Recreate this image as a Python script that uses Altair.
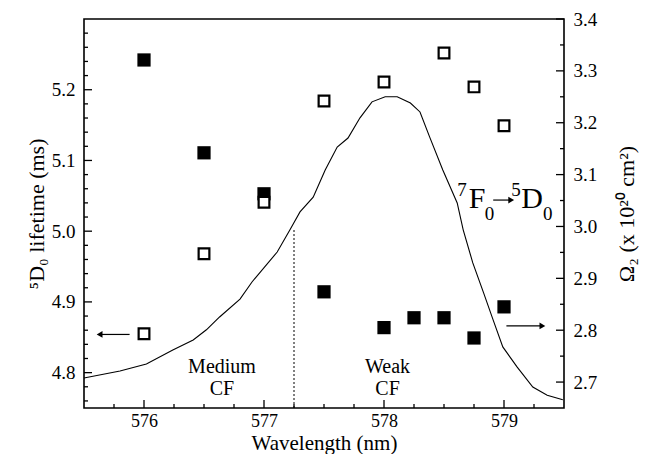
import altair as alt
import pandas as pd

# ---------------- data ----------------
wl_open = [576.0, 576.5, 577.0, 577.5, 578.0, 578.5, 578.75, 579.0]
lifetime = [4.855, 4.968, 5.041, 5.184, 5.211, 5.252, 5.204, 5.149]

wl_fill = [576.0, 576.5, 577.0, 577.5, 578.0, 578.25, 578.5, 578.75, 579.0]
omega2 = [3.321, 3.142, 3.063, 2.874, 2.805, 2.824, 2.824, 2.785, 2.845]

spec_wl = [575.5, 575.8, 576.02, 576.24, 576.41, 576.52, 576.63, 576.8, 576.9,
           577.11, 577.22, 577.3, 577.41, 577.51, 577.61, 577.7, 577.8, 577.9,
           578.01, 578.11, 578.22, 578.3, 578.38, 578.49, 578.61, 578.66, 578.74,
           578.83, 578.91, 578.99, 579.11, 579.24, 579.36, 579.49]
spec_int = [0.077, 0.095, 0.113, 0.149, 0.175, 0.201, 0.234, 0.280, 0.324,
            0.401, 0.460, 0.504, 0.542, 0.612, 0.671, 0.694, 0.746, 0.787,
            0.800, 0.800, 0.784, 0.761, 0.697, 0.612, 0.527, 0.458, 0.373,
            0.296, 0.226, 0.157, 0.105, 0.054, 0.033, 0.021]

x_major = [576, 577, 578, 579]
x_minor = [575.75, 576.25, 576.5, 576.75, 577.25, 577.5, 577.75, 578.25, 578.5,
           578.75, 579.25]
l_major = [4.8, 4.9, 5.0, 5.1, 5.2]
l_minor = [4.76, 4.78, 4.82, 4.84, 4.86, 4.88, 4.92, 4.94, 4.96, 4.98, 5.02, 5.04,
           5.06, 5.08, 5.12, 5.14, 5.16, 5.18, 5.22, 5.24, 5.26, 5.28]
r_major = [2.7, 2.8, 2.9, 3.0, 3.1, 3.2, 3.3, 3.4]
r_minor = [2.75, 2.85, 2.95, 3.05, 3.15, 3.25, 3.35]

divider_wl = [577.25]
divider_lo = [0.0]
divider_hi = [0.46]

region_text = ["Medium", "CF", "Weak", "CF"]
region_x = [576.65, 576.65, 578.03, 578.03]
region_y = [4.808, 4.777, 4.808, 4.777]

arrow_x0 = [575.88, 579.02, 578.91]
arrow_x1 = [575.63, 579.32, 579.06]
arrow_y = [4.854, 4.866, 5.044]
head_shape = ["triangle-left", "triangle-right", "triangle-right"]

big_text = ["F", "D"]
big_x = [578.775, 579.235]
big_y = [5.033, 5.033]
sup_text = ["7", "5"]
sup_x = [578.65, 579.1]
sup_y = [5.05, 5.05]
sub_text = ["0", "0"]
sub_x = [578.88, 579.365]
sub_y = [5.016, 5.016]

# ---------------- layout / style ----------------
W, H = 480, 389
FONT = "Liberation Serif"

xs = alt.Scale(domain=[575.5, 579.5], nice=False, zero=False)
ls = alt.Scale(domain=[4.75, 5.3], nice=False, zero=False)
rs = alt.Scale(domain=[2.65, 3.4], nice=False, zero=False)
cs = alt.Scale(domain=[0, 1], nice=False, zero=False)

xaxis = alt.Axis(values=x_major, format="d", ticks=False, domain=False, grid=False,
                 labelPadding=4, labelFontSize=18, title="Wavelength (nm)", titleFontSize=21,
                 titleX=W / 2, titleY=35, titleBaseline="middle", titleAlign="center")
laxis = alt.Axis(orient="left", values=l_major, format=".1f", ticks=False, domain=False,
                 grid=False, labelPadding=9, title="⁵D₀ lifetime (ms)", titleAngle=270,
                 titleX=-48, titleY=H / 2, titleBaseline="middle", titleAlign="center")
raxis = alt.Axis(orient="right", values=r_major, format=".1f", ticks=False, domain=False,
                 grid=False, labelPadding=9, title="Ω₂ (x 10²⁰ cm²)", titleAngle=270,
                 titleX=62, titleY=H / 2, titleBaseline="middle", titleAlign="center")


def X(f):
    return alt.X(f, type="quantitative", scale=xs, axis=xaxis)


def YL(f):
    return alt.Y(f, type="quantitative", scale=ls, axis=laxis)


def YR(f):
    return alt.Y(f, type="quantitative", scale=rs, axis=raxis)


# ---------------- curve group ----------------
spec_df = pd.DataFrame({"wl": spec_wl, "I": spec_int})
curve = alt.Chart(spec_df).mark_line(color="black", strokeWidth=1.1).encode(
    x=X("wl"), y=alt.Y("I:Q", scale=cs, axis=None), order="wl:Q")
div_df = pd.DataFrame({"wl": divider_wl, "lo": divider_lo, "hi": divider_hi})
divider = alt.Chart(div_df).mark_rule(color="black", strokeWidth=1, strokeDash=[2, 2]).encode(
    x=X("wl"), y=alt.Y("lo:Q", scale=cs, axis=None), y2="hi:Q")
curve_group = alt.layer(curve, divider)

# ---------------- right group ----------------
fill_df = pd.DataFrame({"wl": wl_fill, "om": omega2})
filled = alt.Chart(fill_df).mark_square(filled=True, color="black", size=175, opacity=1).encode(
    x=X("wl"), y=YR("om"))
rmaj = alt.Chart(pd.DataFrame({"v": r_major})).mark_rule(color="black", strokeWidth=1.3).encode(
    y=YR("v"), x=alt.value(W), x2=alt.value(W - 8))
rmin = alt.Chart(pd.DataFrame({"v": r_minor})).mark_rule(color="black", strokeWidth=1.3).encode(
    y=YR("v"), x=alt.value(W), x2=alt.value(W - 4))
right_group = alt.layer(filled, rmaj, rmin)

# ---------------- left group ----------------
open_df = pd.DataFrame({"wl": wl_open, "lt": lifetime})
opened = alt.Chart(open_df).mark_square(filled=True, fill="white", stroke="black",
                                        strokeWidth=2.2, size=115, opacity=1).encode(
    x=X("wl"), y=YL("lt"))
lmaj = alt.Chart(pd.DataFrame({"v": l_major})).mark_rule(color="black", strokeWidth=1.3).encode(
    y=YL("v"), x=alt.value(0), x2=alt.value(8))
lmin = alt.Chart(pd.DataFrame({"v": l_minor})).mark_rule(color="black", strokeWidth=1.3).encode(
    y=YL("v"), x=alt.value(0), x2=alt.value(4))
xmaj = alt.Chart(pd.DataFrame({"v": x_major})).mark_rule(color="black", strokeWidth=1.3).encode(
    x=X("v"), y=alt.value(H), y2=alt.value(H - 8))
xmin = alt.Chart(pd.DataFrame({"v": x_minor})).mark_rule(color="black", strokeWidth=1.3).encode(
    x=X("v"), y=alt.value(H), y2=alt.value(H - 4))

reg_df = pd.DataFrame({"t": region_text, "x": region_x, "y": region_y})
regions = alt.Chart(reg_df).mark_text(font=FONT, fontSize=20, color="black",
                                      align="center", baseline="middle").encode(
    x=X("x"), y=YL("y"), text="t:N")

arr_df = pd.DataFrame({"x0": arrow_x0, "x1": arrow_x1, "y": arrow_y, "s": head_shape})
arrows = alt.Chart(arr_df).mark_rule(color="black", strokeWidth=1.2).encode(
    x=X("x0"), x2="x1:Q", y=YL("y"))
heads = alt.Chart(arr_df).mark_point(filled=True, color="black", size=45, opacity=1).encode(
    x=X("x1"), y=YL("y"),
    shape=alt.Shape("s:N", scale=alt.Scale(domain=["triangle-left", "triangle-right"],
                                           range=["triangle-left", "triangle-right"]),
                    legend=None))

big_df = pd.DataFrame({"t": big_text, "x": big_x, "y": big_y})
bigs = alt.Chart(big_df).mark_text(font=FONT, fontSize=30, color="black", align="center",
                                   baseline="alphabetic").encode(
    x=X("x"), y=YL("y"), text="t:N")
sup_df = pd.DataFrame({"t": sup_text, "x": sup_x, "y": sup_y})
sups = alt.Chart(sup_df).mark_text(font=FONT, fontSize=19, color="black", align="center",
                                   baseline="alphabetic").encode(
    x=X("x"), y=YL("y"), text="t:N")
sub_df = pd.DataFrame({"t": sub_text, "x": sub_x, "y": sub_y})
subs = alt.Chart(sub_df).mark_text(font=FONT, fontSize=19, color="black", align="center",
                                   baseline="alphabetic").encode(
    x=X("x"), y=YL("y"), text="t:N")

left_group = alt.layer(opened, lmaj, lmin, xmaj, xmin, regions, arrows, heads, bigs, sups, subs)

chart = alt.layer(curve_group, right_group, left_group).resolve_scale(
    y="independent").properties(
    width=W, height=H,
    background="white",
    autosize=alt.AutoSizeParams(type="none"),
    padding={"left": 76, "top": 11, "right": 75, "bottom": 46},
).configure_view(stroke="black", strokeWidth=1.6).configure_axis(
    labelFont=FONT, labelFontSize=19, labelColor="black",
    titleFont=FONT, titleFontSize=22, titleFontWeight="normal", titleColor="black",
)

chart.save("out.html", embed_options={"renderer": "svg", "actions": False})
